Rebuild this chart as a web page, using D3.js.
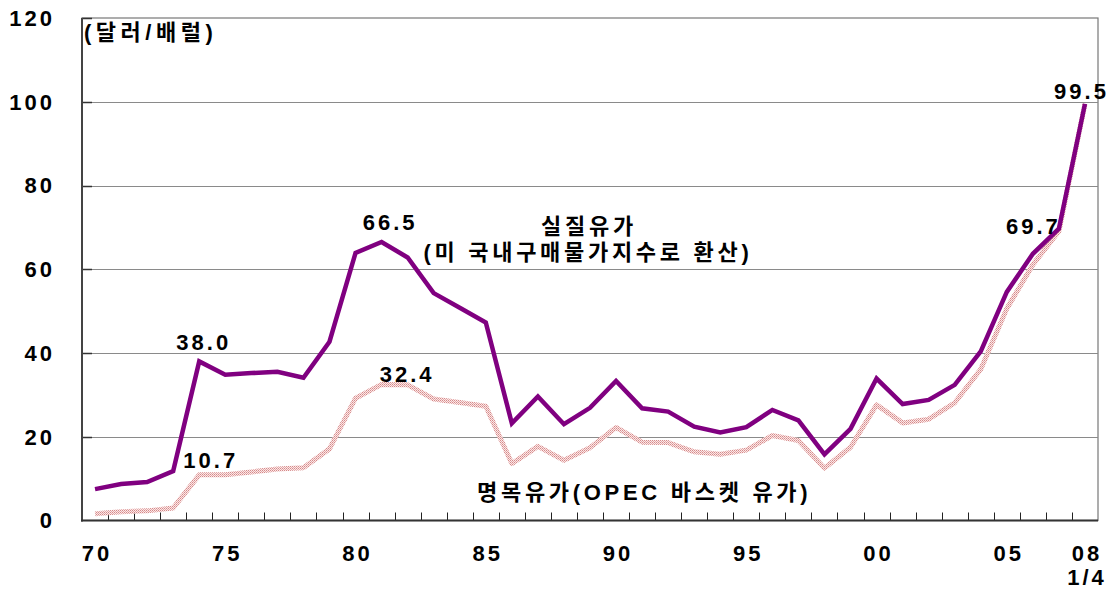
<!DOCTYPE html>
<html>
<head>
<meta charset="utf-8">
<script src="https://cdn.jsdelivr.net/npm/d3@7/dist/d3.min.js"></script>
<style>
  body { margin: 0; background: #fff; }
  text { font-family: "Liberation Sans", Arial, "Noto Sans CJK KR", sans-serif; font-weight: bold; font-size: 22px; letter-spacing: 3px; fill: #000; }
  text.kr { letter-spacing: 3.7px; }
</style>
</head>
<body>
<div id="chart"></div>
<script>
// years 1970 .. 2008 (2008 = Q1)
var years = d3.range(1970, 2009);

// real oil price (US domestic purchase price index deflated), $/bbl
var realPrice = [7.5, 8.7, 9.2, 11.8, 38.0, 34.8, 35.2, 35.5, 34.1, 42.7,
  63.9, 66.5, 62.8, 54.3, 50.8, 47.3, 23.2, 29.6, 23.0, 26.9,
  33.3, 26.8, 26.0, 22.4, 21.0, 22.3, 26.4, 23.9, 15.8, 21.9,
  33.9, 27.8, 28.8, 32.4, 40.4, 54.6, 63.7, 69.7, 99.5];

// nominal oil price (OPEC basket), $/bbl
var nominalPrice = [1.6, 2.1, 2.3, 3.0, 10.9, 10.9, 11.6, 12.3, 12.6, 17.1,
  29.2, 32.5, 32.4, 29.0, 28.2, 27.3, 13.6, 17.7, 14.4, 17.4,
  22.2, 18.7, 18.6, 16.4, 15.8, 16.8, 20.3, 19.1, 12.5, 17.5,
  27.6, 23.3, 24.2, 28.1, 36.1, 50.6, 61.1, 69.1, 99.5];

var yTicks = [0, 20, 40, 60, 80, 100, 120];
var xLabelYears = [1970, 1975, 1980, 1985, 1990, 1995, 2000, 2005, 2008];
var xLabelText = ["70", "75", "80", "85", "90", "95", "00", "05", "08"];

var w = 1111, h = 589;
var pLeft = 82, pRight = 1098, pTop = 18, pBottom = 520.5;

var svg = d3.select("#chart").append("svg")
  .attr("width", w)
  .attr("height", h);

// hatched pattern for the nominal line
var defs = svg.append("defs");
var pat = defs.append("pattern")
  .attr("id", "hatch")
  .attr("width", 2).attr("height", 2)
  .attr("patternUnits", "userSpaceOnUse");
pat.append("rect").attr("width", 2).attr("height", 2).attr("fill", "#fbe8e8");
pat.append("rect").attr("x", 0).attr("y", 0).attr("width", 1).attr("height", 1).attr("fill", "#d58a8a");
pat.append("rect").attr("x", 1).attr("y", 1).attr("width", 1).attr("height", 1).attr("fill", "#e3a8a8");

var x = d3.scaleBand()
  .domain(years)
  .range([pLeft, pRight])
  .paddingInner(0).paddingOuter(0);

var y = d3.scaleLinear()
  .domain([0, 120])
  .range([pBottom, pTop]);

var cx = d => x(d) + x.bandwidth() / 2;

// frame
svg.append("rect")
  .attr("x", pLeft).attr("y", pTop)
  .attr("width", pRight - pLeft).attr("height", pBottom - pTop)
  .attr("fill", "none")
  .attr("stroke", "#777")
  .attr("stroke-width", 1.2);

// grid lines
svg.selectAll(".grid")
  .data(yTicks.filter(v => v > 0 && v < 120))
  .enter().append("line")
  .attr("x1", pLeft).attr("x2", pRight)
  .attr("y1", d => Math.round(y(d)) + 0.5)
  .attr("y2", d => Math.round(y(d)) + 0.5)
  .attr("stroke", "#8a8a8a")
  .attr("stroke-width", 1);

// y ticks (inside)
svg.selectAll(".ytick")
  .data(yTicks.filter(v => v > 0))
  .enter().append("line")
  .attr("x1", pLeft).attr("x2", pLeft + 10)
  .attr("y1", d => Math.round(y(d)) + 0.5)
  .attr("y2", d => Math.round(y(d)) + 0.5)
  .attr("stroke", "#333")
  .attr("stroke-width", 1.5);

// x ticks at band boundaries
svg.selectAll(".xtick")
  .data(years.slice(1))
  .enter().append("line")
  .attr("x1", d => Math.round(x(d)) + 0.5)
  .attr("x2", d => Math.round(x(d)) + 0.5)
  .attr("y1", pBottom - 8).attr("y2", pBottom)
  .attr("stroke", "#222")
  .attr("stroke-width", 1);

// axes lines
svg.append("line")
  .attr("x1", pLeft).attr("x2", pLeft)
  .attr("y1", pTop).attr("y2", pBottom + 1)
  .attr("stroke", "#444").attr("stroke-width", 2);
svg.append("line")
  .attr("x1", pLeft - 1).attr("x2", pRight)
  .attr("y1", pBottom).attr("y2", pBottom)
  .attr("stroke", "#333").attr("stroke-width", 2);

// y tick labels
svg.selectAll(".ylab")
  .data(yTicks)
  .enter().append("text")
  .attr("x", 55)
  .attr("y", d => y(d))
  .attr("dy", "0.36em")
  .attr("text-anchor", "end")
  .text(d => d);

// x tick labels
svg.selectAll(".xlab")
  .data(xLabelYears)
  .enter().append("text")
  .attr("x", d => cx(d) + 2)
  .attr("y", 561)
  .attr("text-anchor", "middle")
  .text((d, i) => xLabelText[i]);
svg.append("text")
  .attr("x", cx(2008) + 2)
  .attr("y", 585)
  .attr("text-anchor", "middle")
  .text("1/4");

// unit
svg.append("text")
  .attr("x", 84).attr("y", 40)
  .style("letter-spacing", "4.5px")
  .text("(달러/배럴)");

var line = d3.line()
  .x((d, i) => cx(years[i]))
  .y(d => y(d));

// nominal line
svg.append("path")
  .datum(nominalPrice)
  .attr("d", line)
  .attr("fill", "none")
  .attr("stroke", "url(#hatch)")
  .attr("stroke-width", 5)
  .attr("stroke-linejoin", "round");

// real line
svg.append("path")
  .datum(realPrice)
  .attr("d", line)
  .attr("fill", "none")
  .attr("stroke", "#800080")
  .attr("stroke-width", 4.5)
  .attr("stroke-linejoin", "miter");

// value labels
function label(year, val, dx, dy) {
  svg.append("text")
    .attr("x", cx(year) + dx + 1.5)
    .attr("y", y(val) + dy)
    .attr("text-anchor", "middle")
    .text(val.toFixed(1));
}
label(1974, realPrice[4], 3, -11);
label(1974, 10.7, 10, -8);
label(1981, realPrice[11], 7, -12);
label(1981, nominalPrice[12], 24, -3);
label(2007, realPrice[37], -27, 5);
label(2008, realPrice[38], -5, -5);

// series labels
svg.append("text")
  .attr("class", "kr")
  .attr("x", 589).attr("y", 234)
  .attr("text-anchor", "middle")
  .text("실질유가");
svg.append("text")
  .attr("class", "kr")
  .attr("x", 588).attr("y", 260)
  .attr("text-anchor", "middle")
  .text("(미 국내구매물가지수로 환산)");
svg.append("text")
  .attr("class", "kr")
  .attr("x", 477).attr("y", 500)
  .text("명목유가(OPEC 바스켓 유가)");
</script>
</body>
</html>
